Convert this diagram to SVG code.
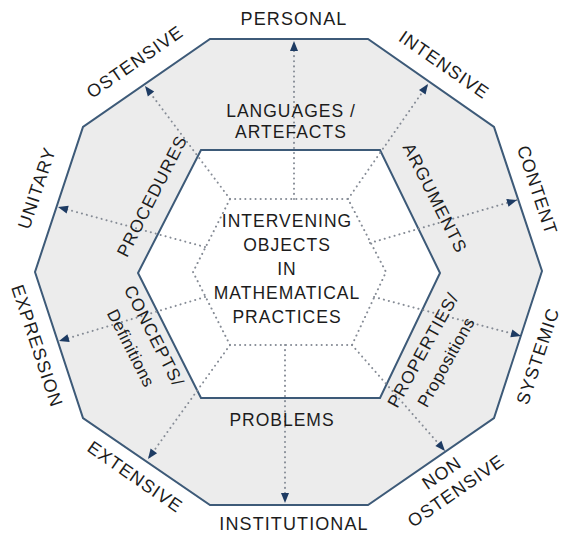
<svg xmlns="http://www.w3.org/2000/svg" width="563" height="533" viewBox="0 0 563 533">
<defs>
<style>
.outer{fill:#ececec;stroke:#3d5a78;stroke-width:2}
.inner{fill:#ffffff;stroke:#3d5a78;stroke-width:2}
.dot{fill:none;stroke:#858b95;stroke-width:2;stroke-dasharray:0.1 5;stroke-linecap:round}
.spoke{fill:none;stroke:#858b95;stroke-width:2;stroke-dasharray:0.1 5;stroke-linecap:round;marker-end:url(#ah)}
text{font-family:"Liberation Sans",Arial,sans-serif;font-size:18px;fill:#1c1c1c;letter-spacing:1.1px;text-anchor:middle}
.c{font-size:17.5px;letter-spacing:1px}
.s{font-size:17px;letter-spacing:0.5px}
</style>
<marker id="ah" markerUnits="userSpaceOnUse" markerWidth="12" markerHeight="10" viewBox="0 0 12 10" refX="11" refY="5" orient="auto">
<path d="M1,1 L11,5 L1,9 Z" fill="#1d3b63"/>
</marker>
</defs>
<g id="outer-ring"><polygon class="outer" points="210,39 368,39 494,127 542,271 494,418 368,505 210,505 83,418 35,272 83,127"/></g>
<g id="inner-hexagon"><polygon class="inner" points="201,150 380,150 440,273 380,398 201,398 138,273"/></g>
<g id="connectors">
<polygon class="dot" points="230,199 348,199 386,272 352,345 230,345 193,272"/>
<line class="spoke" x1="294" y1="199" x2="294" y2="41"/>
<line class="spoke" x1="348" y1="199" x2="428" y2="84"/>
<line class="spoke" x1="370" y1="243" x2="517" y2="200"/>
<line class="spoke" x1="374" y1="297" x2="521" y2="336"/>
<line class="spoke" x1="352" y1="345" x2="445" y2="451"/>
<line class="spoke" x1="285" y1="345" x2="285" y2="503"/>
<line class="spoke" x1="230" y1="345" x2="148" y2="459"/>
<line class="spoke" x1="205" y1="297" x2="59" y2="341"/>
<line class="spoke" x1="205" y1="247" x2="58" y2="207"/>
<line class="spoke" x1="230" y1="199" x2="145" y2="86"/>
</g>
<g id="center"><text class="c" x="287" y="227">INTERVENING</text><text class="c" x="287" y="251">OBJECTS</text><text class="c" x="287" y="275">IN</text><text class="c" x="287" y="299">MATHEMATICAL</text><text class="c" x="287" y="323">PRACTICES</text></g>
<g id="languages"><text class="c" x="291" y="117">LANGUAGES /</text><text class="c" x="291" y="138">ARTEFACTS</text></g>
<g id="problems"><text class="c" x="282" y="426">PROBLEMS</text></g>
<g id="procedures"><text class="c" transform="translate(152,196) rotate(-63)" y="6">PROCEDURES</text></g>
<g id="arguments"><text class="c" transform="translate(435,198) rotate(63)" y="6">ARGUMENTS</text></g>
<g id="concepts"><text class="c" transform="translate(154,336) rotate(63)" y="6">CONCEPTS/</text><text class="s" transform="translate(131,348) rotate(63)" y="6">Definitions</text></g>
<g id="properties"><text class="c" transform="translate(423,350) rotate(-61)" y="6">PROPERTIES/</text><text class="s" transform="translate(446,362) rotate(-61)" y="6">Propositions</text></g>
<g id="personal"><text x="294" y="25">PERSONAL</text></g>
<g id="institutional"><text x="294" y="530">INSTITUTIONAL</text></g>
<g id="ostensive"><text transform="translate(135,62) rotate(-34.7)" y="6">OSTENSIVE</text></g>
<g id="intensive"><text transform="translate(444,65) rotate(34.7)" y="6">INTENSIVE</text></g>
<g id="unitary"><text transform="translate(37,188) rotate(-71.6)" y="6">UNITARY</text></g>
<g id="content"><text transform="translate(537,190) rotate(71.6)" y="6" style="letter-spacing:0.8px">CONTENT</text></g>
<g id="expression"><text transform="translate(37,346) rotate(71.6)" y="6">EXPRESSION</text></g>
<g id="systemic"><text transform="translate(538,356) rotate(-71.6)" y="6">SYSTEMIC</text></g>
<g id="extensive"><text transform="translate(135,477) rotate(34.7)" y="6">EXTENSIVE</text></g>
<g id="nonostensive"><text transform="translate(442,473) rotate(-34.7)" y="6">NON</text><text transform="translate(456,491) rotate(-34.7)" y="6">OSTENSIVE</text></g>
</svg>
